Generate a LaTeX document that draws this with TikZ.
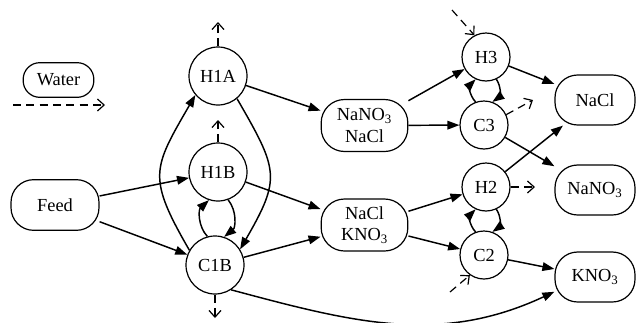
\documentclass[tikz,border=0pt]{standalone}
\usepackage{fontspec}
\setmainfont{Liberation Serif}
\usetikzlibrary{arrows.meta}

\tikzset{
  unit/.style={circle,draw,line width=0.9pt,minimum size=43.5pt,inner sep=0pt},
  smallunit/.style={unit,minimum size=36pt},
  stream/.style={rectangle,draw,rounded corners=17.5pt,line width=0.9pt,
    minimum width=65pt,minimum height=39pt,align=center,inner sep=1pt},
  product/.style={stream,rounded corners=17pt,minimum width=60pt,minimum height=37.5pt},
  flow/.style={-{Triangle[length=9pt,width=6.5pt]},line width=1.1pt},
  water/.style={-{Straight Barb[length=5pt,width=9pt]},line width=0.9pt,
    dash pattern=on 6pt off 4pt}
}

\begin{document}
\begin{tikzpicture}[x=0.75pt,y=-0.75pt,font=\fontsize{13.8}{16}\selectfont]
\useasboundingbox (0,0) rectangle (636,322);

% legend
\node[stream,rounded corners=12.5pt,minimum width=53pt,minimum height=26pt] (water) at (58.5,80) {Water};
\coordinate (wa) at (13,105);
\coordinate (wb) at (105,105);
\draw[water] (wa) -- (wb);

% feed and first stage
\node[stream,rounded corners=17pt,minimum width=66pt,minimum height=38pt] (feed) at (55,205) {Feed};
\node[unit] (H1A) at (218,76) {H1A};
\node[unit] (H1B) at (218,172) {H1B};
\node[unit] (C1B) at (215,265) {C1B};

% mixtures
\node[stream] (mixA) at (364.5,125.5) {NaNO\textsubscript{3}\\NaCl};
\node[stream] (mixB) at (364.5,225) {NaCl\\KNO\textsubscript{3}};

% second stage
\node[smallunit] (H3) at (486,57) {H3};
\node[smallunit] (C3) at (484,125) {C3};
\node[smallunit] (H2) at (486,187) {H2};
\node[smallunit] (C2) at (484,255) {C2};

% products
\node[product] (NaCl) at (595,100) {NaCl};
\node[product] (NaNO3) at (595,190) {NaNO\textsubscript{3}};
\node[product] (KNO3) at (595,277) {KNO\textsubscript{3}};

% water in / out
\coordinate (h1aw) at (218,22);
\coordinate (h1bw) at (218,120);
\coordinate (c1bw) at (215,318);
\coordinate (h3w) at (452,10);
\coordinate (c3w) at (533,100);
\coordinate (h2w) at (535,187);
\coordinate (c2w) at (450,292);
\draw[water] (H1A.north) -- (h1aw);
\draw[water] (H1B.north) -- (h1bw);
\draw[water] (C1B.south) -- (c1bw);
\draw[water] (h3w) -- (H3.118);
\draw[water] (C3.25) -- (c3w);
\draw[water] (H2.east) -- (h2w);
\draw[water] (c2w) -- (C2.235);

% salt flows
\draw[flow] (feed) -- (H1B);
\draw[flow] (feed) -- (C1B);
\draw[flow] (C1B.150) to[out=120,in=240,looseness=1.4] (H1A.220);
\draw[flow] (H1A.310) to[out=-60,in=60,looseness=1.4] (C1B.32);
\draw[flow] (C1B.105) to[bend left=45] (H1B.252);
\draw[flow] (H1B.290) to[bend left=45] (C1B.72);
\draw[flow] (H1A) -- (mixA);
\draw[flow] (H1B) -- (mixB);
\draw[flow] (C1B) -- (mixB);
\draw[flow] (C1B.-57) to[out=-15,in=205] (KNO3.200);
\draw[flow] (mixA) -- (H3);
\draw[flow] (mixA) -- (C3);
\draw[flow] (mixB) -- (H2);
\draw[flow] (mixB) -- (C2);
\draw[flow] (C3.110) to[bend left=45] (H3.245);
\draw[flow] (H3.295) to[bend left=45] (C3.70);
\draw[flow] (C2.110) to[bend left=45] (H2.245);
\draw[flow] (H2.295) to[bend left=45] (C2.70);
\draw[flow] (H3) -- (NaCl);
\draw[flow] (C3) -- (NaNO3);
\draw[flow] (H2) -- (NaCl);
\draw[flow] (C2) -- (KNO3);
\end{tikzpicture}
\end{document}
